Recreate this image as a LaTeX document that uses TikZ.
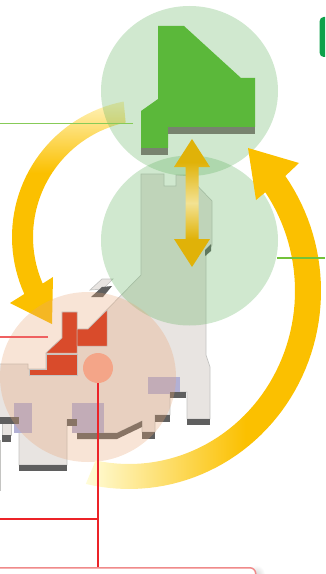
\documentclass[tikz,border=0pt]{standalone}
\usepackage{xcolor}
\usepackage{tikz}
\usetikzlibrary{shapes.geometric}
\definecolor{gold}{HTML}{FBC000}
\definecolor{paleA}{HTML}{FFF3BD}
\definecolor{paleB}{HTML}{FFFCD8}
\definecolor{goldD}{HTML}{E0B208}
\definecolor{goldL}{HTML}{F3E292}
\definecolor{leaf}{HTML}{5BB83A}
\definecolor{leafB}{HTML}{78836F}
\definecolor{ringG}{HTML}{62B25F}
\definecolor{ringP}{HTML}{E8A576}
\definecolor{landF}{HTML}{E8E4E1}
\definecolor{landD}{HTML}{C4C4C2}
\definecolor{coast}{HTML}{5F5F5F}
\definecolor{brick}{HTML}{D94B2B}
\definecolor{plain}{HTML}{B2B0D4}
\definecolor{wire}{HTML}{EC2328}
\definecolor{wireL}{HTML}{EF6060}
\definecolor{wireP}{HTML}{F08A8A}
\definecolor{dotP}{HTML}{F4A588}
\definecolor{stem}{HTML}{72C23A}
\definecolor{tagG}{HTML}{0CA14A}
\pgfdeclareverticalshading{fadeleft}{100bp}{color(0bp)=(gold); color(59bp)=(gold); color(75bp)=(paleA); color(100bp)=(paleA)}
\pgfdeclarehorizontalshading{faderight}{100bp}{color(0bp)=(paleB); color(25bp)=(paleB); color(59bp)=(gold); color(100bp)=(gold)}
\pgfdeclareverticalshading{fadeboth}{100bp}{color(0bp)=(goldD); color(36bp)=(goldD); color(50bp)=(goldL); color(66bp)=(goldD); color(100bp)=(goldD)}
\begin{document}
\begin{tikzpicture}[x=1bp,y=-1bp,>=stealth,
 ring/.style={ellipse,inner sep=0pt,minimum width=177bp,minimum height=170bp,fill=ringG,fill opacity=.3},
 land/.style={fill=landF,draw=landD,line width=.7bp},
 shore/.style={fill=coast},
 lowland/.style={fill=plain},
 region/.style={fill=brick,draw=landD,line width=.5bp},
 redline/.style={draw=wire,line width=1.8bp},
 greenline/.style={draw=stem,line width=2bp}]
\useasboundingbox (0,0) rectangle (325,574);
\clip (0,0) rectangle (325,574);
% map
\draw[land] (141,174)--(164,174)--(164,186)--(176,186)--(176,175)--(187,175)--(212,201)--(212,245)--(206,256)--(206,355)--(210,367)--(210,419)--(187,419)--(187,392)--(170,392)--(170,415)--(155,415)--(155,432)--(142,432)--(142,421)--(117,433)--(77,433)--(77,420)--(67,420)--(67,465)--(19,465)--(19,423)--(-2,423)--(-2,364)--(28,364)--(28,369)--(46,369)--(46,353)--(62,338)--(62,312)--(77,312)--(77,329)--(88,329)--(141,275)--cycle;
\draw[land] (2,423) rectangle (11,435);
\draw[land] (90,290)--(102,279)--(113,279)--(103,289)--cycle;
\draw[landD,line width=.7bp] (.5,440)--(.5,491);
\fill[lowland] (148,377) rectangle (180,394);
\fill[lowland] (14,403) rectangle (32,433);
\fill[lowland] (72,403) rectangle (104,433);
\fill[shore] (19,465) rectangle (67,471);
\fill[shore] (187,419) rectangle (210,425);
\fill[shore] (170,392) rectangle (186,398);
\fill[shore] (155,415) rectangle (170,422);
\fill[shore] (142,432) rectangle (155,439);
\fill[shore] (67,419) rectangle (77,426);
\fill[shore] (-2,417) rectangle (19,424);
\fill[shore] (2,435) rectangle (11,442);
\fill[shore] (77,433)--(117,433)--(142,421)--(142,427)--(117,439)--(77,439)--cycle;
\fill[shore] (91,297)--(102,287)--(112,286)--(103,297)--cycle;
\fill[shore] (205,250)--(211,244)--(211,251)--(205,256)--cycle;
% turning arrows and circles
\shade[shading=fadeleft] plot[domain=259:155.6,samples=40] ({150+138*cos(\x)},{237+138*sin(\x)})--(10,303)--(52,324)--(53,277)--(42,284)--plot[domain=156.5:258,samples=40] ({150+117*cos(\x)},{237+117*sin(\x)})--cycle;
\node[ring] (upper) at (189.5,91) {};
\node[ring] (lower) at (189.5,240.5) {};
\node[ring,fill=ringP,minimum width=176bp] (west) at (88,377) {};
\shade[shading=faderight] plot[domain=103:-35.5,samples=60] ({129+192*cos(\x)},{291+198*sin(\x)})--(299,163)--(248,148)--(256,200)--(268,190)--plot[domain=-35:101.6,samples=60] ({129+166*cos(\x)},{291+173*sin(\x)})--cycle;
% regions
\fill[region] (62,312)--(77,312)--(77,353)--(46,353)--(62,338)--cycle;
\fill[region] (77,329)--(88,329)--(107,310)--(107,346)--(77,346)--cycle;
\fill[region] (46,354)--(77,354)--(77,375)--(29,375)--(29,369)--(46,369)--cycle;
\fill[leaf] (158,26)--(184,26)--(241,78)--(255,78)--(255,127)--(168,127)--(168,148)--(141,148)--(141,111)--(158,99)--cycle;
\fill[leafB] (168,127) rectangle (255,134);
\fill[leafB] (141,148) rectangle (168,155);
\shade[shading=fadeboth] (192,139)--(210,167)--(198.5,167)--(198.5,239)--(210,239)--(192,267)--(174,239)--(185.5,239)--(185.5,167)--(174,167)--cycle;
\node[circle,inner sep=0pt,minimum size=30bp,fill=dotP] (dot) at (98,368) {};
% edges of the page
\shade[inner color=black!15,outer color=white] (256,574) circle (9);
\node[draw=wireP,line width=1.5bp,fill=white,rounded corners=6bp,minimum width=280bp,minimum height=40bp,anchor=north east] (panel) at (256.5,567) {};
\node[fill=tagG,rounded corners=4bp,minimum width=20bp,minimum height=40bp,anchor=west] (tag) at (319.5,37) {};
\coordinate (joinA) at (dot.south |- 0,518.7);
\coordinate (endA) at (0,518.7);
\coordinate (endB) at (0,337);
\coordinate (startB) at (48,337);
\coordinate (endC) at (0,123.7);
\coordinate (startC) at (133,123.7);
\coordinate (endD) at (325,258);
\coordinate (startD) at (277,258);
\draw[redline] (dot.south) -- (dot.south |- panel.north);
\draw[redline] (joinA) -- (endA);
\draw[redline,draw=wireL,line width=1.3bp] (startB) -- (endB);
\draw[greenline,line width=1.4bp,draw=stem!85!white] (startC) -- (endC);
\draw[greenline] (startD) -- (endD);
\end{tikzpicture}
\end{document}
